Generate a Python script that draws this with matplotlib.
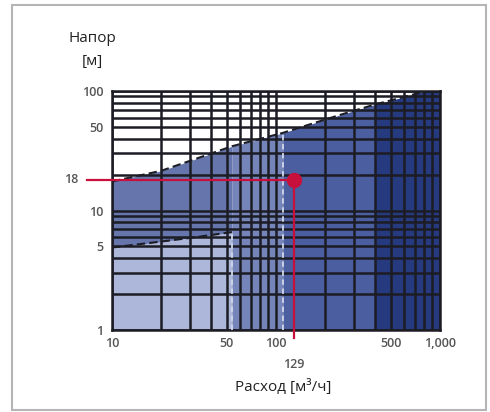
import numpy as np
import matplotlib.pyplot as plt
import matplotlib.transforms as mtransforms
from matplotlib.patches import Rectangle

plt.rcParams['font.family'] = ['Open Sans', 'DejaVu Sans']

# upper limit curve (flow m3/h, head m)
upper_q = [10, 20, 54, 110, 245, 400, 830, 1000]
upper_h = [17.5, 21.5, 34.5, 44.6, 63, 77, 100, 100]

# lower-left area boundary
lower_q = [10, 20, 33, 54]
lower_h = [4.9, 5.5, 6.0, 6.6]

# duty point
point_q = 129
point_h = 18

xticks = [10, 50, 100, 500, 1000]
xtick_labels = ['10', '50', '100', '500', '1,000']
yticks = [1, 5, 10, 50, 100]
ytick_labels = ['1', '5', '10', '50', '100']

fig = plt.figure(figsize=(4.9, 4.12), dpi=100)
fig.patches.append(Rectangle((12/490, 2/412), 474/490, 405/412, transform=fig.transFigure,
                             fill=False, edgecolor='#b5b5b5', lw=1.5))
ax = fig.add_axes([112/490, 1 - 330/412, 328/490, 239/412])
ax.set_xscale('log')
ax.set_yscale('log')
ax.set_xlim(10, 1000)
ax.set_ylim(1, 100)

uq = np.array(upper_q, dtype=float)
uh = np.array(upper_h, dtype=float)

def section(a, b):
    m = (uq >= a) & (uq <= b)
    return uq[m], uh[m]

# colored zones under the limit curve
q, h = section(10, 54)
ax.fill_between(q, 1, h, color='#6676ac', lw=0, zorder=1)
q, h = section(54, 110)
ax.fill_between(q, 1, h, color='#7585ba', lw=0, zorder=1)
q, h = section(110, 400)
ax.fill_between(q, 1, h, color='#4b5e9f', lw=0, zorder=1)
q, h = section(400, 1000)
ax.fill_between(q, 1, h, color='#263b7f', lw=0, zorder=1)
ax.fill_between(lower_q, 1, lower_h, color='#acb7d9', lw=0, zorder=1.1)

ax.grid(True, which='both', color='#1c1c24', lw=1.8, zorder=2)
ax.set_axisbelow(False)

# dashed borders
ax.plot(upper_q, upper_h, color='#1c1c24', lw=1.5, ls=(0, (4, 2)), zorder=3)
ax.plot(lower_q, lower_h, color='#1c1c24', lw=1.5, ls=(0, (4, 2)), zorder=3)
ax.plot([lower_q[-1], lower_q[-1]], [1, lower_h[-1]], color='#d0d6ea', lw=1.3, ls=(0, (3, 2)), zorder=3)
ax.plot([110, 110], [1, 44.6], color='#d0d6ea', lw=1.3, ls=(0, (3, 2)), zorder=3)

# duty point
red = '#c8103c'
xfrac = (np.log10(point_q) - 1) / 2
yfrac = np.log10(point_h) / 2
ax.axhline(point_h, xmin=-0.076, xmax=xfrac, color=red, lw=1.6, clip_on=False, zorder=4)
ax.axvline(point_q, ymin=-0.035, ymax=yfrac, color=red, lw=1.6, clip_on=False, zorder=4)
ax.plot(point_q, point_h, 'o', color=red, ms=10, zorder=5)

for s in ax.spines.values():
    s.set_color('#1c1c24')
    s.set_linewidth(1.8)

ax.set_xticks(xticks)
ax.set_xticklabels(xtick_labels)
ax.set_yticks(yticks)
ax.set_yticklabels(ytick_labels)
ax.minorticks_off()
ax.xaxis.set_minor_locator(plt.LogLocator(base=10, subs=np.arange(2, 10)))
ax.yaxis.set_minor_locator(plt.LogLocator(base=10, subs=np.arange(2, 10)))
ax.xaxis.set_minor_formatter(plt.NullFormatter())
ax.yaxis.set_minor_formatter(plt.NullFormatter())
ax.tick_params(which='both', length=0)
ax.tick_params(axis='x', pad=5, labelsize=9, labelcolor='#555555')
ax.tick_params(axis='y', pad=6, labelsize=9, labelcolor='#555555')
for t in ax.get_xticklabels() + ax.get_yticklabels():
    t.set_fontweight('semibold')

tr_y = mtransforms.blended_transform_factory(ax.transAxes, ax.transData)
ax.text(-0.104, point_h, str(point_h), transform=tr_y, ha='right', va='center',
        fontsize=9, color='#555555', fontweight='semibold')
tr_x = mtransforms.blended_transform_factory(ax.transData, ax.transAxes)
ax.text(point_q, -0.146, str(point_q), transform=tr_x, ha='center', va='center',
        fontsize=9, color='#555555', fontweight='semibold')

fig.text(92/490, 1 - 38/412, 'Напор', ha='center', va='center', fontsize=11, color='#222222')
fig.text(92/490, 1 - 61/412, '[м]', ha='center', va='center', fontsize=11, color='#222222')
fig.text(283/490, 1 - 387/412, 'Расход [м³/ч]', ha='center', va='center', fontsize=11, color='#222222')

fig.savefig('out.png', dpi=100)
